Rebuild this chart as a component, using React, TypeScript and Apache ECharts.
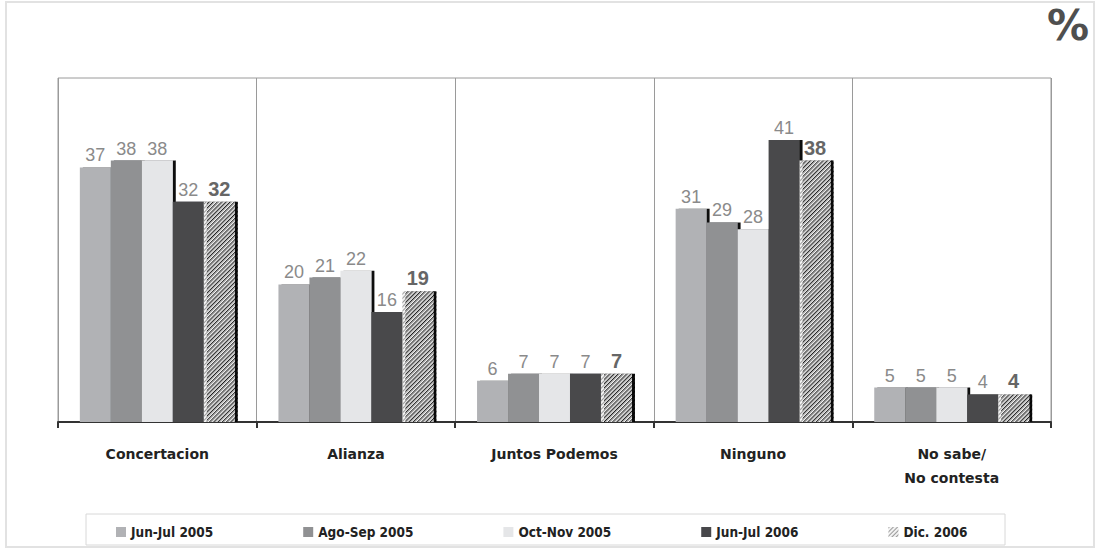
import React, { useEffect, useRef } from "react";
import * as echarts from "echarts";

const categories = ["Concertacion", "Alianza", "Juntos Podemos", "Ninguno", "No sabe/\nNo contesta"];
const seriesNames = ["Jun-Jul 2005", "Ago-Sep 2005", "Oct-Nov 2005", "Jun-Jul 2006", "Dic. 2006"];
const junJul2005 = [37, 20, 6, 31, 5];
const agoSep2005 = [38, 21, 7, 29, 5];
const octNov2005 = [38, 22, 7, 28, 5];
const junJul2006 = [32, 16, 7, 41, 4];
const dic2006 = [32, 19, 7, 38, 4];
const seriesValues = [junJul2005, agoSep2005, octNov2005, junJul2006, dic2006];
const seriesColors = ["#b1b2b5", "#909193", "#e5e6e8", "#48484b", "#f2f2f2"];

export default function App() {
  const ref = useRef<HTMLDivElement>(null);
  useEffect(() => {
    if (!ref.current) return;
    const chart = echarts.init(ref.current, undefined, { renderer: "svg" });
    const series = seriesValues.map((vals, i) => {
      const last = i === seriesValues.length - 1;
      const itemStyle: any = {
        color: seriesColors[i],
        shadowColor: "#111",
        shadowOffsetX: 3,
        shadowOffsetY: 0,
        shadowBlur: 0,
      };
      if (last) {
        itemStyle.decal = {
          symbol: "rect",
          symbolSize: 1,
          dashArrayX: [[1, 0]],
          dashArrayY: [1, 2],
          rotation: -Math.PI / 4,
          color: "#9a9a9a",
        };
      }
      return {
        type: "bar",
        name: seriesNames[i],
        data: vals,
        barGap: "0%",
        barCategoryGap: "22%",
        itemStyle,
        label: {
          show: true,
          position: "top",
          distance: 3,
          fontFamily: "Liberation Sans",
          fontSize: last ? 20 : 18,
          fontWeight: last ? "bold" : "normal",
          color: last ? "#666666" : "#8a8a8a",
        },
      };
    });
    chart.setOption({
      animation: false,
      backgroundColor: "#ffffff",
      grid: {
        left: 58,
        top: 78,
        right: 46,
        bottom: 126,
        show: true,
        borderColor: "#9a9a9a",
        borderWidth: 1,
      },
      legend: {
        left: 111,
        top: 520,
        itemWidth: 10,
        itemHeight: 10,
        itemGap: 90,
        icon: "rect",
        textStyle: {
          fontFamily: "DejaVu Sans Condensed",
          fontSize: 13.5,
          fontWeight: "bold",
          color: "#222",
        },
        data: seriesNames,
      },
      graphic: [
        {
          type: "rect",
          silent: true,
          shape: { x: 6, y: 2, width: 1088, height: 545 },
          style: { fill: "none", stroke: "#e2e2e2", lineWidth: 2 },
        },
        {
          type: "rect",
          silent: true,
          shape: { x: 86, y: 514, width: 919, height: 31 },
          style: { fill: "none", stroke: "#d8d8d8", lineWidth: 1 },
        },
        {
          type: "text",
          right: 8,
          top: 4,
          style: {
            text: "%",
            font: "bold 42px 'DejaVu Sans'",
            fill: "#4f4f4f",
          },
        },
      ],
      xAxis: {
        type: "category",
        data: categories,
        axisLine: { show: true, lineStyle: { color: "#333", width: 2 } },
        axisTick: { show: true, length: 6, lineStyle: { color: "#333", width: 2 } },
        splitLine: { show: true, lineStyle: { color: "#9a9a9a", width: 1 } },
        axisLabel: {
          margin: 20,
          fontFamily: "DejaVu Sans",
          fontSize: 14,
          fontWeight: "bold",
          color: "#222",
          lineHeight: 24,
        },
      },
      yAxis: {
        type: "value",
        min: 0,
        max: 50,
        show: false,
        splitLine: { show: false },
      },
      series,
    });
    return () => chart.dispose();
  }, []);
  return (
    <div
      ref={ref}
      style={{ position: "absolute", left: 0, top: 0, width: 1097, height: 548 }}
    />
  );
}
